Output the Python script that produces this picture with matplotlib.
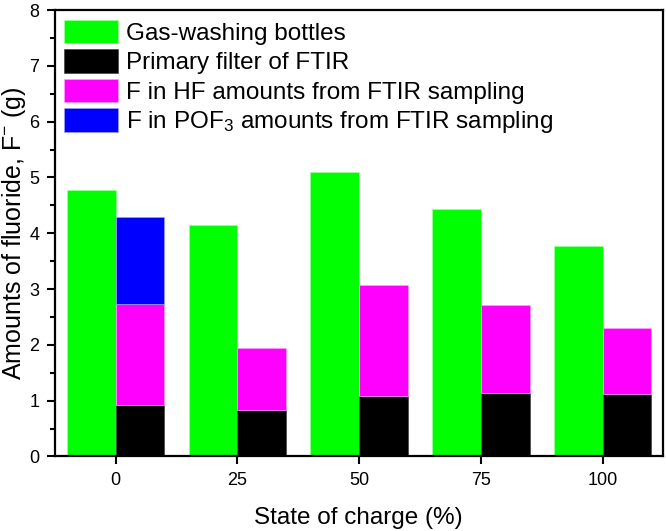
import matplotlib
matplotlib.use("Agg")
import matplotlib.pyplot as plt
from matplotlib.ticker import MultipleLocator

plt.rcParams['font.family'] = ['Liberation Sans', 'DejaVu Sans']
plt.rcParams['mathtext.fontset'] = 'custom'
plt.rcParams['mathtext.rm'] = 'Liberation Sans'
plt.rcParams['mathtext.it'] = 'Liberation Sans:italic'

# data
soc = [0, 25, 50, 75, 100]
gas_washing = [4.78, 4.15, 5.10, 4.43, 3.77]
primary_filter = [0.93, 0.83, 1.09, 1.13, 1.12]
hf_top = [2.74, 1.94, 3.07, 2.71, 2.30]      # top of magenta stack
pof3_top = [4.30, 0, 0, 0, 0]                # top of blue stack (only 0 %)

hf = [t - b for t, b in zip(hf_top, primary_filter)]
pof3 = [max(t - h, 0) for t, h in zip(pof3_top, hf_top)]

labels = ['Gas-washing bottles', 'Primary filter of FTIR',
          'F in HF amounts from FTIR sampling',
          'F in POF$_3$ amounts from FTIR sampling']

w = 10
fig = plt.figure(figsize=(6.66, 5.31), dpi=100)
ax = fig.add_axes([0.082, 0.1405, 0.913, 0.8405])

x_green = [s - w / 2 for s in soc]
x_stack = [s + w / 2 for s in soc]
ax.bar(x_green, gas_washing, width=w, color='#00ff00', edgecolor='#9cff9c', linewidth=0.5, label=labels[0])
ax.bar(x_stack, primary_filter, width=w, color='black', edgecolor='#444444', linewidth=0.5, label=labels[1])
ax.bar(x_stack, hf, width=w, bottom=primary_filter, color='#ff00ff', edgecolor='#ff9cff', linewidth=0.5, label=labels[2])
ax.bar(x_stack[:1], pof3[:1], width=w, bottom=hf_top[:1], color='#0000ff', edgecolor='#9c9cff', linewidth=0.5, label=labels[3])

ax.set_xlim(-12.5, 112.3)
ax.set_ylim(0, 8)
ax.set_xticks(soc)
ax.yaxis.set_major_locator(MultipleLocator(1))
ax.yaxis.set_minor_locator(MultipleLocator(0.5))

for s in ax.spines.values():
    s.set_linewidth(1.6)
ax.tick_params(axis='both', which='major', direction='out', length=6, width=1.5, labelsize=13, pad=5)
ax.tick_params(axis='y', which='minor', direction='out', length=3.5, width=1.5)
ax.tick_params(top=False, right=False)

ax.set_xlabel('State of charge (%)', fontsize=17.5, labelpad=13)
ax.set_ylabel('Amounts of fluoride, F$^{-}$ (g)', fontsize=18, labelpad=1)

ax.legend(loc='upper left', frameon=False, fontsize=17.5, handlelength=2.2, handleheight=1.12,
          labelspacing=0.18, handletextpad=0.33, borderaxespad=0.1, borderpad=0.3)

fig.savefig('out.png', dpi=100)
